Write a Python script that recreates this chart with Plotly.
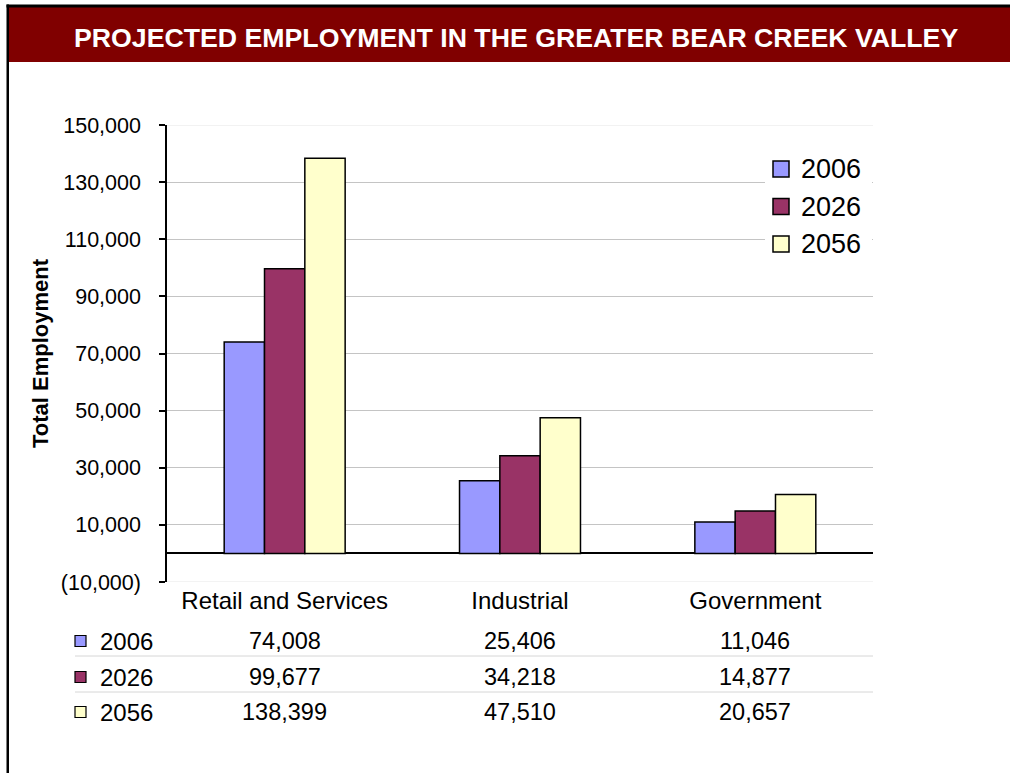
import plotly.graph_objects as go

# ---- data ----
categories = ["Retail and Services", "Industrial", "Government"]
series_names = ["2006", "2026", "2056"]
values_2006 = [74008, 25406, 11046]
values_2026 = [99677, 34218, 14877]
values_2056 = [138399, 47510, 20657]
series_values = [values_2006, values_2026, values_2056]
series_colors = ["#9999FF", "#993366", "#FFFFCC"]
y_tickvals = [-10000, 10000, 30000, 50000, 70000, 90000, 110000, 130000, 150000]
y_ticktext = ["(10,000)", "10,000", "30,000", "50,000", "70,000", "90,000",
              "110,000", "130,000", "150,000"]
title_text = "PROJECTED EMPLOYMENT IN THE GREATER BEAR CREEK VALLEY"
y_title = "Total Employment"

FONT = "Liberation Sans, Arial, sans-serif"
W, H = 1010, 773
L, R, T, B = 167, 873, 125, 582


def xp(px):
    return (px - L) / (R - L)


def yp(py):
    return (B - py) / (B - T)


fig = go.Figure()
for name, vals, col in zip(series_names, series_values, series_colors):
    fig.add_trace(go.Bar(
        x=categories, y=vals, name=name,
        marker=dict(color=col, line=dict(color="black", width=1.5)),
        showlegend=False,
    ))

shapes = []
annotations = []

# faint gridlines at the range edges
for v in (y_tickvals[0], y_tickvals[-1]):
    shapes.append(dict(type="line", xref="paper", yref="y", x0=0, x1=1, y0=v, y1=v,
                       line=dict(color="#e6e6e6", width=1), layer="below"))

# frame and title bar
shapes.append(dict(type="rect", xref="paper", yref="paper",
                   x0=xp(9), x1=xp(1015), y0=yp(62), y1=yp(7),
                   fillcolor="#800000", line=dict(width=0), layer="above"))
shapes.append(dict(type="rect", xref="paper", yref="paper",
                   x0=xp(6.5), x1=xp(1015), y0=yp(7.5), y1=yp(4.5),
                   fillcolor="black", line=dict(width=0), layer="above"))
shapes.append(dict(type="rect", xref="paper", yref="paper",
                   x0=xp(6.5), x1=xp(9), y0=yp(780), y1=yp(4.5),
                   fillcolor="black", line=dict(width=0), layer="above"))
annotations.append(dict(text="<b>" + title_text + "</b>", xref="paper", yref="paper",
                        x=xp(516), y=yp(38), xanchor="center", yanchor="middle",
                        showarrow=False, font=dict(family=FONT, size=26.7, color="white")))

# legend (white box + swatches)
shapes.append(dict(type="rect", xref="paper", yref="paper",
                   x0=xp(765), x1=xp(872), y0=yp(262), y1=yp(150),
                   fillcolor="white", line=dict(width=0), layer="above"))
leg_y = [169, 206.5, 244]
for name, col, cy in zip(series_names, series_colors, leg_y):
    shapes.append(dict(type="rect", xref="paper", yref="paper",
                       x0=xp(773), x1=xp(789), y0=yp(cy + 8), y1=yp(cy - 8),
                       fillcolor=col, line=dict(color="black", width=1.5), layer="above"))
    annotations.append(dict(text=name, xref="paper", yref="paper",
                            x=xp(799), y=yp(cy), xanchor="left", yanchor="middle",
                            showarrow=False, font=dict(family=FONT, size=27, color="black")))

# data table
row_y = [641, 677, 712]
for sep in [656, 692]:
    shapes.append(dict(type="line", xref="paper", yref="paper",
                       x0=xp(75), x1=xp(873), y0=yp(sep), y1=yp(sep),
                       line=dict(color="#d6d6d6", width=1)))
for name, vals, col, cy in zip(series_names, series_values, series_colors, row_y):
    shapes.append(dict(type="rect", xref="paper", yref="paper",
                       x0=xp(75), x1=xp(86), y0=yp(cy + 5.5), y1=yp(cy - 5.5),
                       fillcolor=col, line=dict(color="black", width=1.2), layer="above"))
    annotations.append(dict(text=name, xref="paper", yref="paper",
                            x=xp(98), y=yp(cy), xanchor="left", yanchor="middle",
                            showarrow=False, font=dict(family=FONT, size=24, color="black")))
    for cat, v in zip(categories, vals):
        annotations.append(dict(text=f"{v:,}", xref="x", yref="paper",
                                x=cat, y=yp(cy), xanchor="center", yanchor="middle",
                                showarrow=False, font=dict(family=FONT, size=23.5, color="black")))

fig.update_layout(
    width=W, height=H,
    margin=dict(l=L, r=W - R, t=T, b=H - B, pad=0),
    paper_bgcolor="white", plot_bgcolor="white",
    barmode="group", bargap=0.486, bargroupgap=0,
    font=dict(family=FONT, color="black"),
    shapes=shapes, annotations=annotations,
    showlegend=False,
)
fig.update_xaxes(
    showgrid=False, showline=False, ticks="", zeroline=False,
    tickfont=dict(family=FONT, size=24, color="black"),
    ticklabelstandoff=2,
)
fig.update_yaxes(
    range=[-10000, 150000], tickvals=y_tickvals, ticktext=y_ticktext,
    ticks="outside", ticklen=6, tickwidth=1.5, tickcolor="black",
    showline=True, linecolor="black", linewidth=1.5,
    showgrid=True, gridcolor="#c4c4c4", gridwidth=1,
    zeroline=True, zerolinecolor="black", zerolinewidth=1.5,
    tickfont=dict(family=FONT, size=21.5, color="black"),
    ticklabelstandoff=14,
    title=dict(text="<b>" + y_title + "</b>", font=dict(family=FONT, size=22, color="black"),
               standoff=6),
)

fig.write_html("out.html", config={"displayModeBar": False},
               post_script="document.body.style.margin='0';")
